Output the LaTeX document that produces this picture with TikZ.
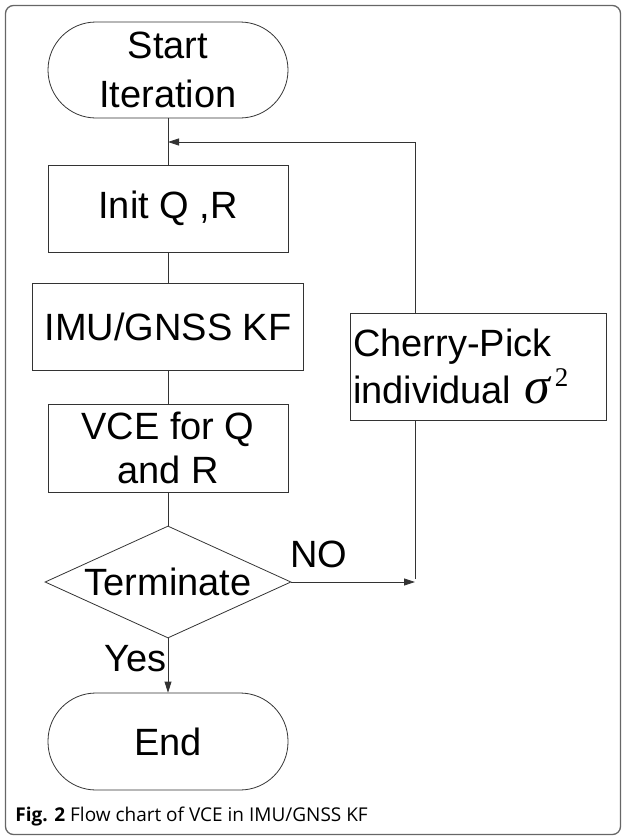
\documentclass[tikz,border=0pt]{standalone}
\usepackage{fontspec}
\setmainfont{Liberation Sans}
\newfontfamily\captionfont{Open Sans}
\newfontfamily\symbfont{Liberation Serif}
\usetikzlibrary{arrows.meta,shapes.geometric}

\begin{document}
\begin{tikzpicture}[x=1pt,y=-1pt,>={Triangle[length=11pt,width=7pt]},line width=0.8pt,
  font=\fontsize{38}{44}\selectfont,
  chart/.style={draw=black!80,align=center,inner sep=2pt},
  startstop/.style={chart,rectangle,rounded corners=48pt,minimum width=240pt,minimum height=96pt},
  process/.style={chart,rectangle,minimum width=240pt,minimum height=87pt},
  decision/.style={chart,diamond,aspect=2.2,inner sep=0pt,minimum width=246pt,minimum height=112pt},
  flowline/.style={draw=black!80}]
\useasboundingbox (0,0) rectangle (625,838);

% ---------------- frame ----------------
\draw[black!60,line width=1.3pt,rounded corners=8pt] (5.5,5.5) rectangle (620.5,834.5);

% ---------------- main column ----------------
\node[startstop,font=\fontsize{38}{49}\selectfont] (start) at (168,70) {Start\\Iteration};
\node[process] (init) at (168,208.5) {Init Q ,R};
\node[process,minimum width=271pt] (kf) at (168,326.5) {IMU/GNSS KF};
\node[process,minimum height=88pt] (vce) at (168,448) {VCE for Q\\and R};
\node[decision] (term) at (168,582) {Terminate};
\node[startstop,minimum height=97pt] (stop) at (168,741.5) {End};

% ---------------- feedback branch ----------------
\node[chart,align=left,text width=250pt,inner xsep=3pt,minimum height=107pt,
  font=\fontsize{38}{47}\selectfont] (pick) at (478,366.5)
  {Cherry-Pick\\individual {\symbfont\itshape\fontsize{52}{47}\selectfont σ}\hspace{5pt}\raisebox{17pt}{\symbfont\fontsize{27}{27}\selectfont 2}};
\coordinate (loop) at (415,142);
\coordinate (nojoin) at (415,579);

\draw[flowline] (start) -- (init);
\draw[flowline] (init) -- (kf);
\draw[flowline] (kf) -- (vce);
\draw[flowline] (vce) -- (term);
\draw[flowline,->] (term) -- node[pos=0.37,left,inner sep=1pt]{Yes} (stop);
\draw[flowline,->] (term.east) -- node[pos=0.22,above=14pt,inner sep=0pt]{NO} (term.east -| loop);
\draw[flowline] (nojoin) -- (nojoin |- pick.south);
\draw[flowline] (pick.north -| loop) -- (loop);
\draw[flowline,->] (loop) -- (loop -| start.south);

% ---------------- caption ----------------
\node[anchor=base west,inner sep=0pt,font=\captionfont\fontsize{19}{22}\selectfont] (caption) at (15,821)
  {\textbf{Fig. 2} Flow chart of VCE in IMU/GNSS KF};

\end{tikzpicture}
\end{document}
